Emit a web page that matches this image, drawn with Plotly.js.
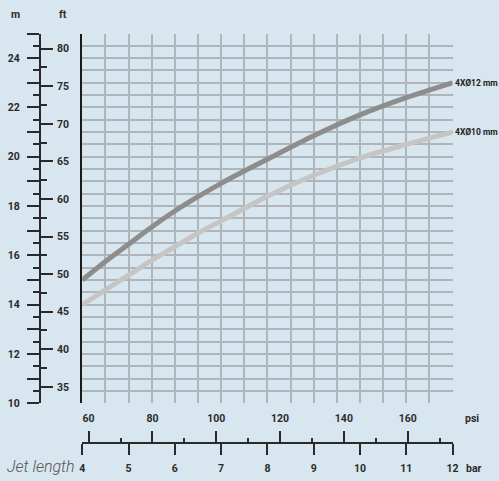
<!DOCTYPE html>
<html>
<head>
<meta charset="utf-8">
<script src="https://cdn.plot.ly/plotly-3.0.1.min.js"></script>
<style>
  html, body { margin: 0; padding: 0; background: #d7e6ef; }
  #chart { width: 499px; height: 481px; }
</style>
</head>
<body>
<div id="chart"></div>
<script>
// ---- data ----
const pressureBar = [4, 4.5, 5, 5.5, 6, 6.5, 7, 7.5, 8, 9, 10, 11, 12];
const jet12mm = [15.0, 15.75, 16.45, 17.15, 17.8, 18.38, 18.92, 19.42, 19.9, 20.85, 21.7, 22.4, 23.0];
const jet10mm = [14.0, 14.6, 15.2, 15.8, 16.35, 16.9, 17.4, 17.9, 18.4, 19.25, 19.95, 20.5, 21.0];
const seriesNames = ["4XØ12 mm", "4XØ10 mm"];

const barRange = [4, 12];
const meterRange = [10, 25];
const PSI_PER_BAR = 14.5038;
const FT_PER_M = 3.28084;

const mTickVals = [10, 11, 12, 13, 14, 15, 16, 17, 18, 19, 20, 21, 22, 23, 24, 25];
const mTickText = ["10", "", "12", "", "14", "", "16", "", "18", "", "20", "", "22", "", "24", ""];
const mMinorVals = [10.5, 11.5, 12.5, 13.5, 14.5, 15.5, 16.5, 17.5, 18.5, 19.5, 20.5, 21.5, 22.5, 23.5, 24.5];
const ftTickVals = [35, 40, 45, 50, 55, 60, 65, 70, 75, 80];
const ftMinorVals = [32.5, 37.5, 42.5, 47.5, 52.5, 57.5, 62.5, 67.5, 72.5, 77.5];
const psiTickVals = [60, 80, 100, 120, 140, 160];
const psiMinorVals = [70, 90, 110, 130, 150, 170];
const barTickVals = [4, 5, 6, 7, 8, 9, 10, 11, 12];

// ---- layout geometry (pixels in a 499x481 page) ----
const W = 499, H = 481;
const px = v => v / W;
const py = v => 1 - v / H;
const plotL = 82.3, plotR = 452.5, plotT = 33.5, plotB = 403.3;

const FAMILY = "Roboto, 'DejaVu Sans', sans-serif";
const labelFont = { family: FAMILY, size: 10.5, color: "#2b2b2b", weight: 700 };
const tickColor = "#2a2a2a";
const gridColor = "#aeb6bb";

const traces = [
  {
    x: pressureBar, y: jet12mm, type: "scatter", mode: "lines",
    name: seriesNames[0], line: { color: "#8d8d8d", width: 5, shape: "spline", smoothing: 0.8 },
    xaxis: "x", yaxis: "y", hoverinfo: "skip"
  },
  {
    x: pressureBar, y: jet10mm, type: "scatter", mode: "lines",
    name: seriesNames[1], line: { color: "#c5c5c5", width: 5, shape: "spline", smoothing: 0.8 },
    xaxis: "x", yaxis: "y", hoverinfo: "skip"
  },
  // empty traces so the secondary scales get drawn
  { x: [], y: [], type: "scatter", mode: "lines", xaxis: "x", yaxis: "y2", hoverinfo: "skip", showlegend: false },
  { x: [], y: [], type: "scatter", mode: "lines", xaxis: "x", yaxis: "y3", hoverinfo: "skip", showlegend: false },
  { x: [], y: [], type: "scatter", mode: "lines", xaxis: "x2", yaxis: "y", hoverinfo: "skip", showlegend: false },
  { x: [], y: [], type: "scatter", mode: "lines", xaxis: "x3", yaxis: "y", hoverinfo: "skip", showlegend: false }
];

const layout = {
  width: W, height: H,
  margin: { l: 0, r: 0, t: 0, b: 0, pad: 0 },
  paper_bgcolor: "#d7e6ef",
  plot_bgcolor: "#d7e6ef",
  showlegend: false,
  hovermode: false,
  dragmode: false,
  font: labelFont,
  xaxis: {
    domain: [px(plotL), px(plotR)],
    range: barRange, dtick: 0.5, tick0: 4,
    showgrid: true, gridcolor: gridColor, gridwidth: 2,
    showticklabels: false, ticks: "", zeroline: false, showline: false,
    anchor: "y", fixedrange: true
  },
  yaxis: {
    domain: [py(plotB), py(plotT)],
    range: meterRange, dtick: 0.5, tick0: 10,
    showgrid: true, gridcolor: gridColor, gridwidth: 2,
    showticklabels: false, ticks: "", zeroline: false,
    showline: true, linecolor: "#1a1a1a", linewidth: 2, mirror: false,
    anchor: "x", fixedrange: true
  },
  // metres scale (left)
  yaxis2: {
    overlaying: "y", anchor: "free", position: px(40), side: "left",
    range: meterRange, autorange: false,
    tickmode: "array", tickvals: mTickVals, ticktext: mTickText,
    ticks: "outside", ticklen: 12, tickwidth: 1.5, tickcolor: tickColor,
    minor: { tickmode: "array", tickvals: mMinorVals, ticks: "outside", ticklen: 6, tickwidth: 1.5, tickcolor: tickColor, showgrid: false },
    ticklabelstandoff: 5,
    showline: true, linecolor: tickColor, linewidth: 2,
    showgrid: false, zeroline: false, tickfont: labelFont, fixedrange: true
  },
  // feet scale (right of same line)
  yaxis3: {
    overlaying: "y", anchor: "free", position: px(40), side: "right",
    range: [meterRange[0] * FT_PER_M, meterRange[1] * FT_PER_M], autorange: false,
    tickmode: "array", tickvals: ftTickVals,
    ticks: "outside", ticklen: 12, tickwidth: 1.5, tickcolor: tickColor,
    minor: { tickmode: "array", tickvals: ftMinorVals, ticks: "outside", ticklen: 6, tickwidth: 1.5, tickcolor: tickColor, showgrid: false },
    ticklabelstandoff: 2,
    showline: false, showgrid: false, zeroline: false, tickfont: labelFont, fixedrange: true
  },
  // bar scale (bottom)
  xaxis2: {
    overlaying: "x", anchor: "free", position: py(443), side: "bottom",
    range: barRange, autorange: false,
    tickmode: "array", tickvals: barTickVals,
    ticks: "outside", ticklen: 11, tickwidth: 1.5, tickcolor: tickColor,
    ticklabelstandoff: 4,
    showline: true, linecolor: tickColor, linewidth: 2,
    showgrid: false, zeroline: false, tickfont: labelFont, fixedrange: true
  },
  // psi scale (above bar line)
  xaxis3: {
    overlaying: "x", anchor: "free", position: py(443), side: "top",
    range: [barRange[0] * PSI_PER_BAR, barRange[1] * PSI_PER_BAR], autorange: false,
    tickmode: "array", tickvals: psiTickVals,
    ticks: "outside", ticklen: 12, tickwidth: 1.5, tickcolor: tickColor,
    minor: { tickmode: "array", tickvals: psiMinorVals, ticks: "outside", ticklen: 5, tickwidth: 1.5, tickcolor: tickColor, showgrid: false },
    ticklabelstandoff: 5,
    showline: false, showgrid: false, zeroline: false, tickfont: labelFont, fixedrange: true
  },
  annotations: [
    { xref: "paper", yref: "paper", x: px(15), y: py(14), text: "m", showarrow: false, xanchor: "center", yanchor: "middle", font: labelFont },
    { xref: "paper", yref: "paper", x: px(63), y: py(14), text: "ft", showarrow: false, xanchor: "center", yanchor: "middle", font: labelFont },
    { xref: "paper", yref: "paper", x: px(463), y: py(418), text: "psi", showarrow: false, xanchor: "left", yanchor: "middle", font: labelFont },
    { xref: "paper", yref: "paper", x: px(464), y: py(468), text: "bar", showarrow: false, xanchor: "left", yanchor: "middle", font: labelFont },
    { xref: "paper", yref: "paper", x: px(5), y: py(466), text: "<i>Jet length</i>", showarrow: false, xanchor: "left", yanchor: "middle",
      font: { family: FAMILY, size: 16, color: "#555555", weight: 300 } },
    { xref: "x", yref: "y", x: pressureBar[pressureBar.length - 1], y: jet12mm[jet12mm.length - 1], text: seriesNames[0],
      showarrow: false, xanchor: "left", yanchor: "middle", xshift: 0, font: { family: FAMILY, size: 8.5, color: "#222222", weight: 700 } },
    { xref: "x", yref: "y", x: pressureBar[pressureBar.length - 1], y: jet10mm[jet10mm.length - 1], text: seriesNames[1],
      showarrow: false, xanchor: "left", yanchor: "middle", xshift: 0, font: { family: FAMILY, size: 8.5, color: "#222222", weight: 700 } }
  ]
};

Plotly.newPlot("chart", traces, layout, { displayModeBar: false, staticPlot: false, scrollZoom: false });
</script>
</body>
</html>
